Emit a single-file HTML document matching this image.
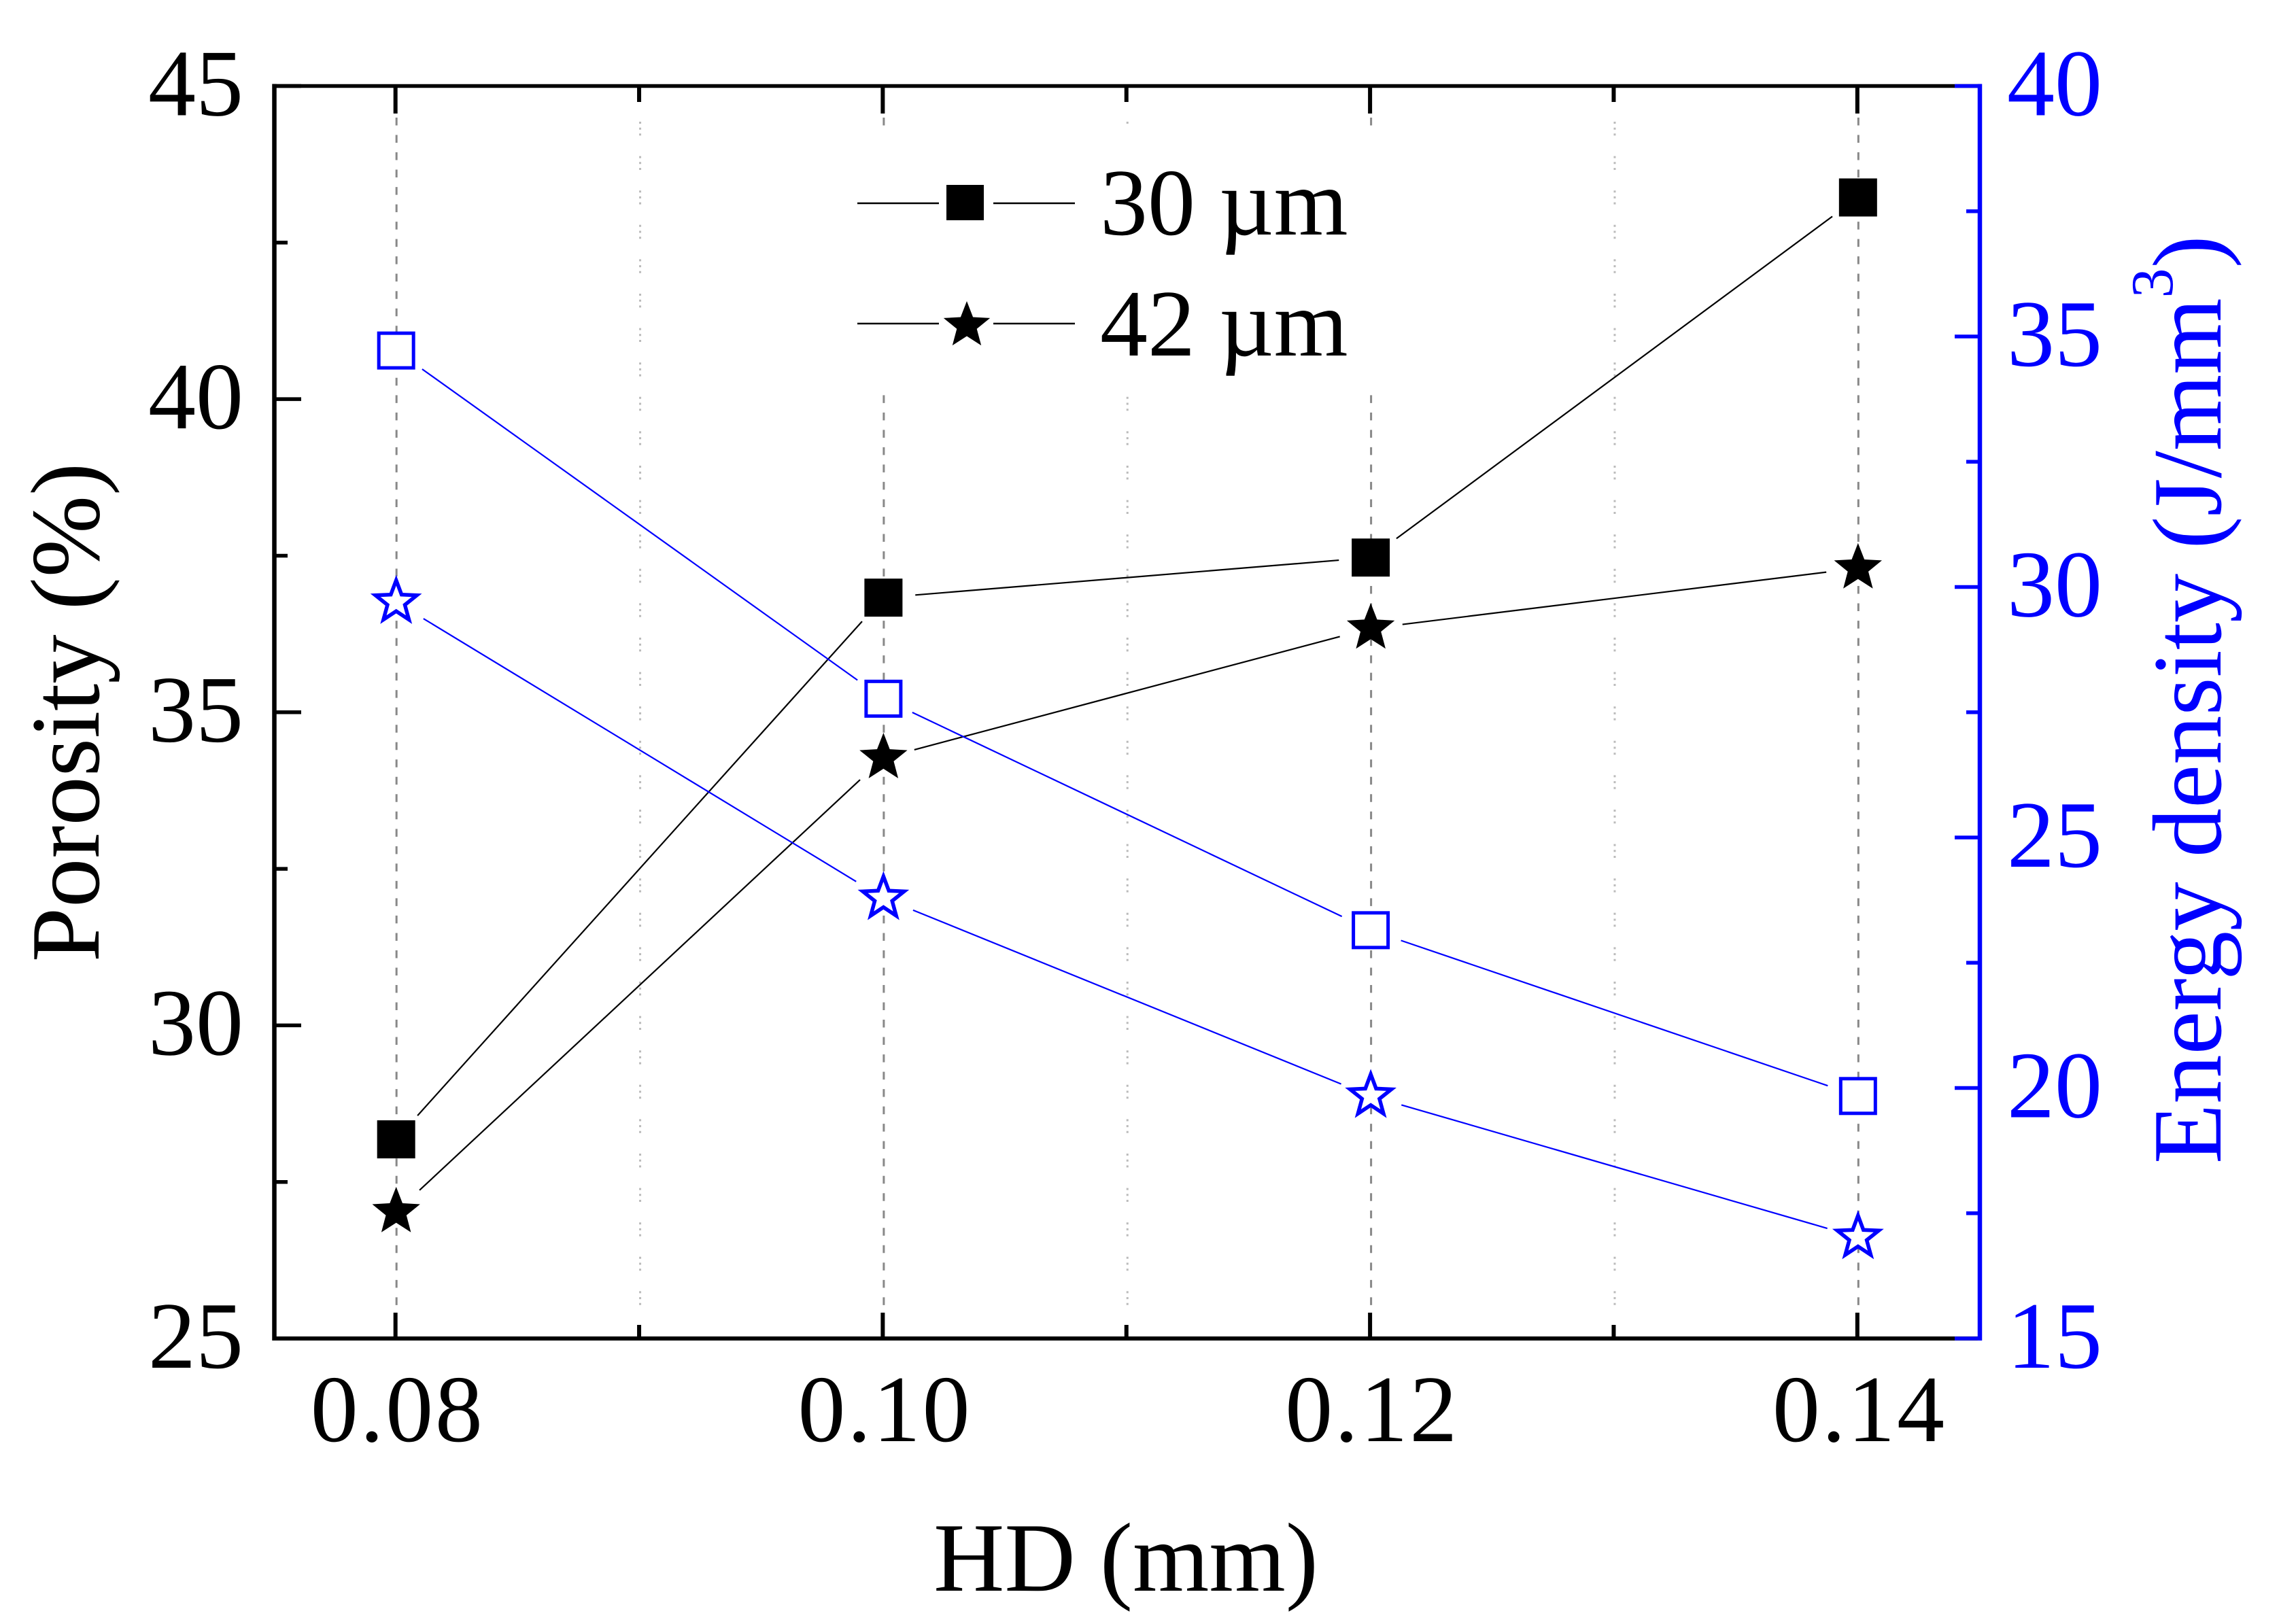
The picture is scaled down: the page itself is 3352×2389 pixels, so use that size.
<!DOCTYPE html>
<html lang="en">
<head>
<meta charset="utf-8">
<title>Porosity and energy density vs hatch distance</title>
<style>
html,body{margin:0;padding:0;background:#fff;}
svg{display:block;}
text{font-family:"Liberation Serif","Times New Roman",serif;}
</style>
</head>
<body>
<svg id="chart" xmlns="http://www.w3.org/2000/svg" width="3352" height="2389" viewBox="0 0 3352 2389">
  <rect x="0" y="0" width="3352" height="2389" fill="#fff"/>
  <g id="grid"></g>
  <rect x="1255" y="186" width="1050" height="394" fill="#fff"/>
  <g id="series"></g>
  <g id="axes"></g>
  <g id="legend">
    <text x="1618" y="345" font-size="140" fill="#000">30 µm</text>
    <text x="1618" y="523" font-size="140" fill="#000">42 µm</text>
  </g>
  <text x="1656" y="2340" font-size="144.5" text-anchor="middle" fill="#000">HD (mm)</text>
  <text transform="translate(145 1048) rotate(-90)" font-size="144.5" text-anchor="middle" fill="#000">Porosity (%)</text>
  <text transform="translate(3266 1712) rotate(-90)" font-size="144.5" fill="#0000ff">Energy density (J/mm<tspan dy="-71" font-size="88">3</tspan><tspan dy="71">)</tspan></text>
</svg>
<script>
const hatchDistances = [0.08, 0.10, 0.12, 0.14];
const porosity30 = [28.18, 36.83, 37.47, 43.22];
const porosity42 = [27.02, 34.27, 36.34, 37.30];
const energy30 = [34.72, 27.77, 23.15, 19.84];
const energy42 = [29.70, 23.79, 19.84, 17.02];
const xMajorTicks = [0.08, 0.10, 0.12, 0.14];
const xMinorTicks = [0.09, 0.11, 0.13];
const xTickLabels = ["0.08", "0.10", "0.12", "0.14"];
const leftMajorTicks = [25, 30, 35, 40, 45];
const leftMinorTicks = [27.5, 32.5, 37.5, 42.5];
const leftTickLabels = ["25", "30", "35", "40", "45"];
const rightMajorTicks = [15, 20, 25, 30, 35, 40];
const rightMinorTicks = [17.5, 22.5, 27.5, 32.5, 37.5];
const rightTickLabels = ["15", "20", "25", "30", "35", "40"];

const NS = "http://www.w3.org/2000/svg";
const PLOT = {left: 403.5, right: 2912, top: 126.5, bottom: 1969};
const BLUE = "#0000ff";
const LINE_GAP = 47;

function xPos(v) { return PLOT.left + (v - 0.075) / 0.07 * (PLOT.right - PLOT.left); }
function yLeft(v) { return PLOT.bottom - (v - 25) / 20 * (PLOT.bottom - PLOT.top); }
function yRight(v) { return PLOT.bottom - (v - 15) / 25 * (PLOT.bottom - PLOT.top); }

function make(tag, parent, props) {
  const el = document.createElementNS(NS, tag);
  for (const k in props) el.setAttribute(k, props[k]);
  parent.appendChild(el);
  return el;
}
function starPoints(cx, cy, r, ratio) {
  const pts = [];
  for (let i = 0; i < 10; i++) {
    const rad = i % 2 === 0 ? r : r * ratio;
    const a = -Math.PI / 2 + i * Math.PI / 5;
    pts.push((cx + rad * Math.cos(a)).toFixed(1) + "," + (cy + rad * Math.sin(a)).toFixed(1));
  }
  return pts.join(" ");
}

const gridLayer = document.getElementById("grid");
const seriesLayer = document.getElementById("series");
const axesLayer = document.getElementById("axes");
const legendLayer = document.getElementById("legend");

/* gridlines */
xMajorTicks.forEach(function (t) {
  const x = xPos(t) + 0.5;
  const g = make("line", gridLayer, {x1: x, x2: x, y1: 173, y2: 1931, stroke: "#888888", "stroke-width": 3, "stroke-dasharray": "11.5 14.02"});
  
  
});
xMinorTicks.forEach(function (t) {
  const x = xPos(t) + 0.5;
  const g = make("line", gridLayer, {x1: x, x2: x, y1: 179, y2: 1949, stroke: "#bbbbbb", "stroke-width": 3, "stroke-dasharray": "3 5.7 3 5.7 3 30.2"});
  
  
});

/* series */
function drawLine(values, yScale, color, name) {
  for (let i = 0; i < values.length - 1; i++) {
    const x1 = xPos(hatchDistances[i]), y1 = yScale(values[i]);
    const x2 = xPos(hatchDistances[i + 1]), y2 = yScale(values[i + 1]);
    const len = Math.hypot(x2 - x1, y2 - y1);
    const ux = (x2 - x1) / len, uy = (y2 - y1) / len;
    const seg = make("line", seriesLayer, {x1: x1 + ux * LINE_GAP, y1: y1 + uy * LINE_GAP, x2: x2 - ux * LINE_GAP, y2: y2 - uy * LINE_GAP, stroke: color, "stroke-width": 2.2});
    
    
  }
}
drawLine(porosity30, yLeft, "#000", "porosity-30um-line");
drawLine(porosity42, yLeft, "#000", "porosity-42um-line");
drawLine(energy30, yRight, BLUE, "energy-30um-line");
drawLine(energy42, yRight, BLUE, "energy-42um-line");

porosity30.forEach(function (v, i) {
  const x = xPos(hatchDistances[i]), y = yLeft(v);
  const m = make("rect", seriesLayer, {x: x - 28, y: y - 28, width: 56, height: 56, fill: "#000"});
  
  
});
porosity42.forEach(function (v, i) {
  const m = make("polygon", seriesLayer, {points: starPoints(xPos(hatchDistances[i]), yLeft(v), 37, 0.43), fill: "#000"});
  
  
});
energy30.forEach(function (v, i) {
  const x = xPos(hatchDistances[i]), y = yRight(v);
  const m = make("rect", seriesLayer, {x: x - 25.5, y: y - 25.5, width: 51, height: 51, fill: "#fff", stroke: BLUE, "stroke-width": 5});
  
  
});
energy42.forEach(function (v, i) {
  const m = make("polygon", seriesLayer, {points: starPoints(xPos(hatchDistances[i]), yRight(v), 32, 0.42), fill: "#fff", stroke: BLUE, "stroke-width": 5.5, "stroke-linejoin": "miter", "stroke-miterlimit": 6});
  
  
});

/* axes */
function axisLine(x1, y1, x2, y2, color, w, name) {
  const l = make("line", axesLayer, {x1: x1, y1: y1, x2: x2, y2: y2, stroke: color, "stroke-width": w});
  
  
}
axisLine(PLOT.left - 3, PLOT.top, PLOT.right, PLOT.top, "#000", 5.5, "top-axis-line");
axisLine(PLOT.left - 3, PLOT.bottom, PLOT.right, PLOT.bottom, "#000", 6, "bottom-axis-line");
axisLine(PLOT.left, PLOT.top - 3, PLOT.left, PLOT.bottom + 3, "#000", 6.5, "left-axis-line");

xMajorTicks.forEach(function (t) {
  const x = xPos(t) - 1;
  axisLine(x, PLOT.bottom, x, 1931, "#000", 6, "x-major-tick-bottom");
  axisLine(x, PLOT.top, x, 167, "#000", 6, "x-major-tick-top");
});
xMinorTicks.forEach(function (t) {
  const x = xPos(t) - 1;
  axisLine(x, PLOT.bottom, x, 1949, "#000", 6, "x-minor-tick-bottom");
  axisLine(x, PLOT.top, x, 150, "#000", 6, "x-minor-tick-top");
});
leftMajorTicks.forEach(function (t) { axisLine(PLOT.left, yLeft(t), 443, yLeft(t), "#000", 5.5, "left-major-tick"); });
leftMinorTicks.forEach(function (t) { axisLine(PLOT.left, yLeft(t), 423, yLeft(t), "#000", 5.5, "left-minor-tick"); });

rightMajorTicks.forEach(function (t) { axisLine(2875, yRight(t), PLOT.right, yRight(t), BLUE, 5.5, "right-major-tick"); });
rightMinorTicks.forEach(function (t) { axisLine(2892, yRight(t), PLOT.right, yRight(t), BLUE, 5.5, "right-minor-tick"); });
axisLine(PLOT.right, PLOT.top - 3, PLOT.right, PLOT.bottom + 3, BLUE, 6.5, "right-axis-line");

xTickLabels.forEach(function (label, i) {
  const t = make("text", axesLayer, {x: xPos(xMajorTicks[i]) + 2, y: 2120, "font-size": 140, "text-anchor": "middle", "letter-spacing": 2.7, fill: "#000"});
  t.textContent = label;
  
  
});
leftTickLabels.forEach(function (label, i) {
  const t = make("text", axesLayer, {x: 358, y: yLeft(leftMajorTicks[i]) + 43, "font-size": 140, "text-anchor": "end", fill: "#000"});
  t.textContent = label;
  
  
});
rightTickLabels.forEach(function (label, i) {
  const t = make("text", axesLayer, {x: 2952, y: yRight(rightMajorTicks[i]) + 43, "font-size": 140, fill: BLUE});
  t.textContent = label;
  
  
});

/* legend symbols */
function legendLine(x1, x2, y, name) {
  const l = make("line", legendLayer, {x1: x1, x2: x2, y1: y, y2: y, stroke: "#000", "stroke-width": 2.6});
  
  
}
legendLine(1261, 1381, 299, "legend-line-30um");
legendLine(1461, 1581, 299, "legend-line-30um");
legendLine(1261, 1381, 476, "legend-line-42um");
legendLine(1461, 1581, 476, "legend-line-42um");
const legendSquare = make("rect", legendLayer, {x: 1392, y: 272, width: 55, height: 52, fill: "#000"});


const legendStar = make("polygon", legendLayer, {points: starPoints(1422, 479, 36, 0.43), fill: "#000"});


</script>
</body>
</html>
